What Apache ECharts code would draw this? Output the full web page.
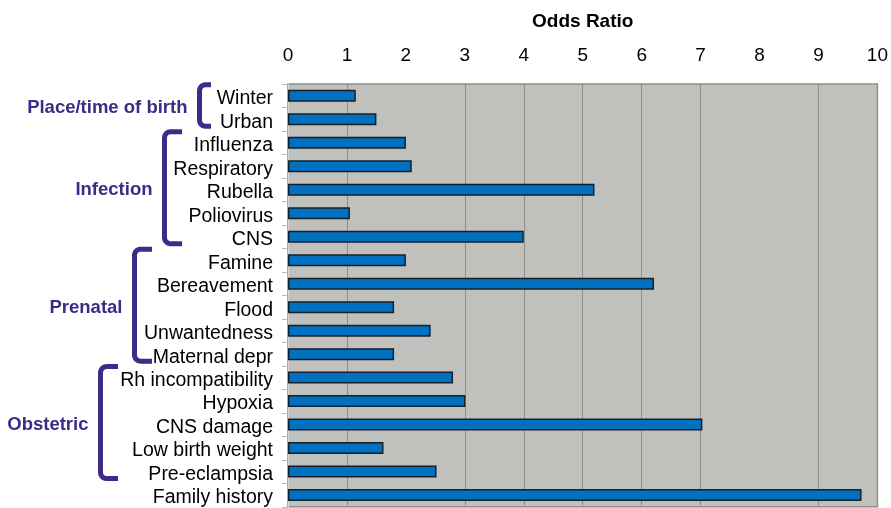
<!DOCTYPE html>
<html>
<head>
<meta charset="utf-8">
<script src="https://cdn.jsdelivr.net/npm/echarts@6/dist/echarts.min.js"></script>
<style>
html,body{margin:0;padding:0;background:#fff;}
#c{width:891px;height:508px;}
</style>
</head>
<body>
<div id="c"></div>
<script>
const categories = ["Winter","Urban","Influenza","Respiratory","Rubella","Poliovirus","CNS","Famine","Bereavement","Flood","Unwantedness","Maternal depr","Rh incompatibility","Hypoxia","CNS damage","Low birth weight","Pre-eclampsia","Family history"];
const oddsRatio = [1.15,1.5,2.0,2.1,5.2,1.05,4.0,2.0,6.21,1.8,2.42,1.8,2.8,3.01,7.03,1.62,2.52,9.73];
const xTicks = [0,1,2,3,4,5,6,7,8,9,10];
const visibleGridLines = [1,3,4,5,6,7,9];
const groupNames = ["Place/time of birth","Infection","Prenatal","Obstetric"];
const groupFirst = ["Winter","Influenza","Famine","Rh incompatibility"];
const groupLast = ["Urban","CNS","Maternal depr","Pre-eclampsia"];
// bracket layout (vertical line x, arm end x)
const bracketX = [199.5,164.5,134.5,100.5];
const bracketArm = [211,182,152,118];

const purple = '#3F2A87';
const FONT = 'Liberation Sans, Arial';
const chart = echarts.init(document.getElementById('c'), null, {renderer:'canvas'});
chart.setOption({
  animation:false,
  grid:{left:288, top:84, width:592, height:425, show:true, backgroundColor:'#C0C1BD', borderColor:'#8C8E8A', borderWidth:1.5},
  xAxis:{
    type:'value', position:'top', min:xTicks[0], max:xTicks[xTicks.length-1], interval:1,
    name:'Odds Ratio', nameLocation:'middle', nameGap:53,
    nameTextStyle:{fontFamily:FONT, fontWeight:'bold', fontSize:19, color:'#000'},
    axisLabel:{fontFamily:FONT, fontSize:19, color:'#000', margin:19},
    axisLine:{show:false}, axisTick:{show:false},
    splitLine:{show:false}
  },
  yAxis:{
    type:'category', data:categories, inverse:true,
    axisLabel:{margin:15, interval:0,
      formatter:v=>'{a|'+v+'}',
      rich:{a:{fontFamily:FONT, fontSize:19.5, color:'#000', padding:[6,0,0,0]}}},
    axisLine:{show:true, lineStyle:{color:'#D8D8D8', width:1}},
    axisTick:{show:true, length:6, interval:0, lineStyle:{color:'#BBBBBB'}},
    splitLine:{show:false}
  },
  series:[{
    type:'line', data:[], z:1, silent:true,
    markLine:{silent:true, symbol:'none', label:{show:false}, z:1,
      lineStyle:{color:'#8E8F8C', width:1, type:'solid'},
      data:visibleGridLines.map(v=>({xAxis:v}))}
  },{
    type:'bar', data:oddsRatio, barWidth:12, z:3,
    itemStyle:{color:'#0070C0', borderColor:'#15202B', borderWidth:1.5}
  }]
});

function bracketPoints(x, arm, top, bot){
  const r = 6, pts = [];
  pts.push([arm, top]);
  for(let i=0;i<=6;i++){const a=-Math.PI/2 - i*Math.PI/12; pts.push([x+r+r*Math.cos(a), top+r+r*Math.sin(a)]);}
  for(let i=0;i<=6;i++){const a=Math.PI - i*Math.PI/12; pts.push([x+r+r*Math.cos(a), bot-r+r*Math.sin(a)]);}
  pts.push([arm, bot]);
  return pts;
}
const graphics = [];
groupNames.forEach((g,i)=>{
  const y1 = chart.convertToPixel({yAxisIndex:0}, groupFirst[i]);
  const y2 = chart.convertToPixel({yAxisIndex:0}, groupLast[i]);
  const top = y1 - 11, bot = y2 + 7;
  graphics.push({type:'polyline', shape:{points:bracketPoints(bracketX[i], bracketArm[i], top, bot)},
    style:{stroke:purple, lineWidth:5, fill:null, lineJoin:'round', lineCap:'butt'}});
  graphics.push({type:'text', x:bracketX[i]-12, y:(top+bot)/2 + 2.5,
    style:{text:g, fill:purple, font:'bold 18.5px "Liberation Sans", Arial', textAlign:'right', textVerticalAlign:'middle'}});
});
chart.setOption({graphic:graphics});
</script>
</body>
</html>
